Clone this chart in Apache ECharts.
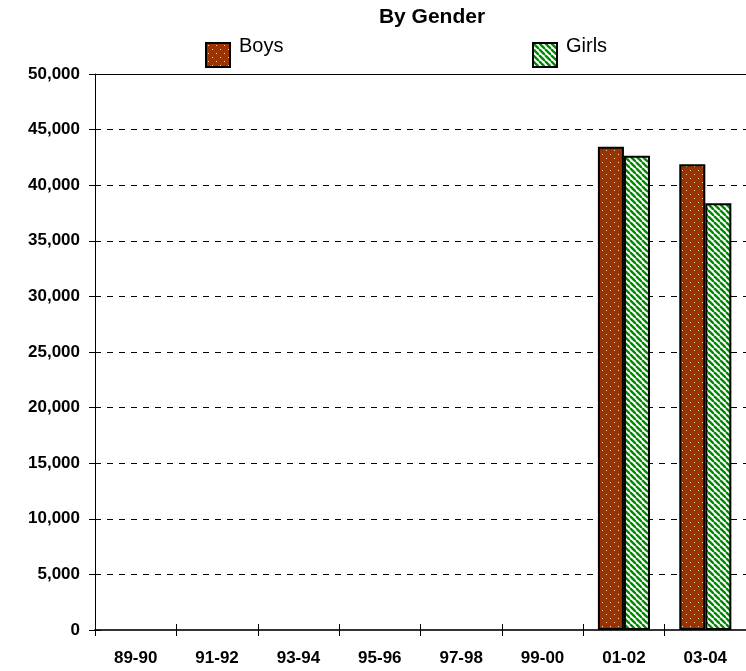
<!DOCTYPE html>
<html>
<head>
<meta charset="utf-8">
<script src="https://cdn.jsdelivr.net/npm/echarts@6/dist/echarts.min.js"></script>
<style>html,body{margin:0;padding:0;background:#fff}#c{width:746px;height:671px}</style>
</head>
<body>
<div id="c"></div>
<script>
const categories = ['89-90','91-92','93-94','95-96','97-98','99-00','01-02','03-04'];
const boys  = [null, null, null, null, null, null, 43450, 41880];
const girls = [null, null, null, null, null, null, 42650, 38370];
const yTicks = {min: 0, max: 50000, interval: 5000};

function dotPattern() {
  const c = document.createElement('canvas');
  c.width = 8; c.height = 8;
  const g = c.getContext('2d');
  g.fillStyle = '#993300'; g.fillRect(0,0,8,8);
  g.fillStyle = '#f4d8c8';
  g.fillRect(2,2,1,1);
  g.fillRect(6,6,1,1);
  return c;
}
function stripePattern() {
  const c = document.createElement('canvas');
  c.width = 6; c.height = 6;
  const g = c.getContext('2d');
  g.fillStyle = '#ffffff'; g.fillRect(0,0,6,6);
  g.strokeStyle = '#008a00'; g.lineWidth = 2.4;
  for (let k = -6; k <= 12; k += 6) {
    g.beginPath(); g.moveTo(k, 0); g.lineTo(k + 6, 6); g.stroke();
  }
  return c;
}

const chart = echarts.init(document.getElementById('c'));
const font = "'Liberation Sans', Arial, sans-serif";
const narrow = "'Liberation Sans Narrow', 'Arial Narrow', " + font;
const legendCommon = {
  top: 36, padding: 0, itemWidth: 24, itemHeight: 24, itemGap: 10, icon: 'rect',
  itemStyle: {borderColor: '#000', borderWidth: 2},
  formatter: n => '{t|' + n + '}',
  textStyle: {rich: {t: {fontFamily: narrow, fontSize: 20, color: '#000', padding: [0, 0, 18, 4]}}}
};
chart.setOption({
  animation: false,
  title: {
    text: 'By Gender', left: 427, top: 2, textAlign: 'center',
    textStyle: {fontFamily: font, fontSize: 21, fontWeight: 'bold', color: '#000'}
  },
  legend: [
    Object.assign({data: ['Boys'], left: 205}, legendCommon),
    Object.assign({data: ['Girls'], left: 532}, legendCommon)
  ],
  grid: {left: 95, top: 74, right: -3, bottom: 41},
  xAxis: [{
    type: 'category', data: categories,
    axisLine: {lineStyle: {color: '#333', width: 2}},
    axisTick: {show: true, length: 6, lineStyle: {color: '#000'}},
    axisLabel: {fontFamily: font, fontSize: 17, fontWeight: 'bold', color: '#000', margin: 20}
  }, {
    type: 'category', data: categories, position: 'bottom', offset: 0,
    axisLine: {show: false},
    axisTick: {show: true, inside: true, length: 6, lineStyle: {color: '#000'}},
    axisLabel: {show: false}
  }, {
    type: 'category', data: categories, position: 'top', offset: 0,
    axisLine: {show: true, lineStyle: {color: '#000', width: 1}},
    axisTick: {show: false},
    axisLabel: {show: false}
  }],
  yAxis: [{
    type: 'value', min: yTicks.min, max: yTicks.max, interval: yTicks.interval,
    axisLine: {show: true, lineStyle: {color: '#000', width: 1}},
    axisTick: {show: true, length: 6, lineStyle: {color: '#000'}},
    splitLine: {show: true, lineStyle: {color: '#000', type: [6, 6], width: 1}},
    axisLabel: {fontFamily: font, fontSize: 17, fontWeight: 'bold', color: '#000', margin: 15,
      formatter: v => v.toLocaleString('en-US')}
  }, {
    type: 'value', min: yTicks.min, max: yTicks.max, interval: yTicks.interval,
    position: 'left', offset: 0,
    axisLine: {show: false},
    axisTick: {show: true, inside: true, length: 6, lineStyle: {color: '#000'}},
    splitLine: {show: false},
    axisLabel: {show: false}
  }],
  series: [
    {name: 'Boys', type: 'bar', data: boys, barGap: '0%', barCategoryGap: '36%',
     itemStyle: {color: {image: dotPattern(), repeat: 'repeat'}, borderColor: '#000', borderWidth: 2}},
    {name: 'Girls', type: 'bar', data: girls,
     itemStyle: {color: {image: stripePattern(), repeat: 'repeat'}, borderColor: '#000', borderWidth: 2}}
  ]
});
</script>
</body>
</html>
